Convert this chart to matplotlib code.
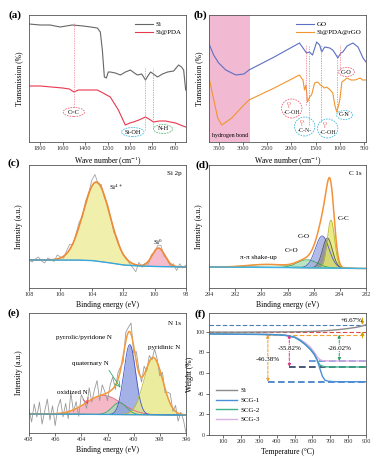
import numpy as np
import matplotlib
matplotlib.use("Agg")
import matplotlib.pyplot as plt
from matplotlib.patches import Ellipse
from matplotlib.lines import Line2D

plt.rcParams['font.family'] = ['Liberation Serif', 'DejaVu Serif']
plt.rcParams['mathtext.fontset'] = 'stix'

# ---------------- data ----------------
# (a) FTIR
a_si_wn = [1900, 1800, 1712, 1622, 1515, 1416, 1350, 1291, 1264, 1246, 1228, 1210, 1193, 1175, 1130,
           1085, 1040, 996, 960, 933, 895, 861, 840, 816, 790, 754, 710, 664, 610, 566, 540, 521, 503]
a_si_T = [118, 117, 117, 115, 117, 116, 115, 114, 110, 92, 65, 64, 70, 70, 69,
          67, 70, 72, 69, 67, 68, 62, 66, 70, 68, 65, 68, 70, 71, 77, 75, 72, 52]
a_pda_wn = [1900, 1800, 1700, 1600, 1540, 1500, 1460, 1400, 1291, 1240, 1175, 1103, 1041, 1000, 969,
            920, 861, 830, 790, 740, 682, 640, 593, 550, 503]
a_pda_T = [56, 56, 55, 54, 53, 50, 52, 52, 52, 49, 45, 32, 17, 19, 20,
           22, 25, 23, 20, 21, 21, 20, 19, 17, 15]
a_marks = [1500, 862, 790]

# (b) FTIR
b_go_wn = [3690, 3604, 3500, 3354, 3146, 2979, 2875, 2354, 1833, 1760, 1688, 1625, 1563, 1479, 1417,
           1375, 1313, 1208, 1146, 1090, 1042, 979, 938, 850, 729, 625, 521, 460]
b_go_T = [97, 87, 79, 72, 67, 68, 72, 85, 99, 94, 89, 90, 87, 100, 97,
          90, 95, 94, 92, 88, 84, 89, 90, 96, 99, 95, 84, 80]
b_rgo_wn = [3690, 3600, 3520, 3437, 3229, 3021, 2875, 2354, 1833, 1792, 1760, 1729, 1700, 1667, 1625,
            1583, 1521, 1458, 1400, 1313, 1271, 1200, 1146, 1104, 1063, 1030, 1000, 958, 900, 854,
            770, 688, 630, 583, 530, 479, 460]
b_rgo_T = [62, 42, 24, 17, 24, 35, 42, 54, 67, 64, 62, 52, 57, 40, 45,
           47, 59, 60, 57, 54, 55, 52, 49, 37, 30, 36, 42, 60, 62, 64,
           62, 62, 63, 64, 62, 62, 62]
b_marks = [1690, 1646, 1396, 1063, 1000]
b_band = [3700, 2850]

# (c) Si 2p
c_centers = [103.7, 99.75]
c_heights = [79, 18.5]
c_sigmas = [0.85, 0.40]
c_base_E = [108, 105, 104, 103, 102, 101, 100, 98]
c_base_I = [28, 28, 27.5, 25.5, 23, 22, 21.5, 21]
c_raw_res = [0, -2, 1, 3, -1, -3, 2, 0, -2, 4,
             1, -2, 3, 5, -1, 2, 4, -2, 3, 1,
             6, 8, -1, 3, -2, 2, 1, -3, 2, 0,
             -1, 1, -2, -4, -7, 3, -2, 1, -3, 2,
             -1, 3, 4, -2, 1, -3, 2, -4, 3, -1, 2]

# (d) C 1s  (C-C, C-N, C-O, C=O, pi-pi)
d_centers = [284.68, 284.95, 285.35, 286.5, 289.5]
d_heights = [48, 30, 32, 8, 3]
d_sigmas = [0.28, 0.38, 0.52, 0.75, 1.5]
d_base_E = [294, 288, 284, 282]
d_base_I = [21, 20.5, 19.8, 19.5]

# (e) N 1s  (oxidized, quaternary, pyrrolic, pyridinic)
e_centers = [402.3, 401.1, 400.3, 398.5]
e_heights = [19, 12, 70, 57]
e_sigmas = [1.35, 0.55, 0.45, 0.72]
e_base_E = [408, 396]
e_base_I = [19, 18]
e_raw_res = [5, -8, 10, -3, 12, -10, 3, 15, -6, 8,
             -12, 6, 14, -4, 9, -7, 18, -2, 7, -9,
             11, 4, -6, 13, -3, 8, 16, -5, 10, 2,
             -8, 6, 12, -4, 7, 3, -6, 9, 5, 11,
             -7, 10, 4, -5, 8, -3, 6, -2, 9, 3,
             -6, 7, -4, 5, 10, -3, 6, -8, 2, -5, -18]

# (f) TGA
f_T_si = [25, 100, 200, 300, 400, 500, 600, 650, 700, 750, 800, 850, 880, 900]
f_W_si = [99.6, 99.5, 99.5, 99.6, 99.7, 99.8, 100.2, 100.6, 101.2, 102.0, 103.0, 104.3, 105.5, 106.7]
f_T = [25, 100, 200, 300, 400, 450, 500, 530, 560, 590, 610, 625, 640, 655, 670, 690, 720, 800, 900]
f_W_1 = [97.8, 97.6, 97.4, 97.3, 97.0, 96.3, 94.5, 91.5, 87.5, 82.5, 78, 73, 65, 57, 53, 52, 51.6, 51.5, 51.5]
f_W_2 = [97.8, 97.6, 97.4, 97.3, 97.0, 96.3, 94.5, 91.5, 87.5, 82.5, 78, 73, 68, 66.5, 66, 65.9, 65.8, 65.8, 65.8]
f_W_3 = [97.9, 97.7, 97.5, 97.4, 97.1, 96.6, 95.0, 92.5, 89, 84.5, 80, 76, 73, 72, 71.8, 71.7, 71.6, 71.6, 71.6]
f_losses = ['+6.67%', '-46.38%', '-35.82%', '-26.02%']

# ---------------- figure ----------------
W, H = 387, 466
fig = plt.figure(figsize=(W / 100, H / 100), dpi=100)

def ax_px(l, t, r, b):
    return fig.add_axes([l / W, 1 - b / H, (r - l) / W, (b - t) / H])

TICK = 4.5
LAB = 5.5

def style(ax, yticks=False):
    for s in ax.spines.values():
        s.set_linewidth(0.6)
        s.set_color('#555555')
    ax.tick_params(direction='out', length=2, width=0.5, labelsize=TICK, pad=1.2, colors='#333333')
    if not yticks:
        ax.set_yticks([])

def plabel(x, y, s):
    fig.text(x / W, 1 - y / H, s, fontsize=8, fontweight='bold', ha='center', va='center')

def gauss(x, c, h, s):
    return h * np.exp(-(x - c) ** 2 / (2 * s ** 2))

def ell(ax, x, y, w, h, ec):
    ax.add_patch(Ellipse((x, y), w, h, fill=False, ec=ec, ls=(0, (2, 1.2)), lw=0.6, zorder=5))

LC, RC = (29, 186), (209, 366)

# ---- (a)
ax = ax_px(LC[0], 15, LC[1], 142)
ax.plot(a_si_wn, a_si_T, color='#666666', lw=0.8, label='Si')
ax.plot(a_pda_wn, a_pda_T, color='#e8384f', lw=0.8, label='Si@PDA')
ax.set_xlim(1900, 500)
ax.set_ylim(0, 127)
ax.set_xticks([1800, 1600, 1400, 1200, 1000, 800, 600])
style(ax)
ax.vlines(a_marks[0], 35, 119, colors='#ee8899', linestyles=(0, (2, 1.5)), lw=0.5)
ax.vlines(a_marks[1], 12, 74, colors='#55bbdd', linestyles=(0, (2, 1.5)), lw=0.5)
ax.vlines(a_marks[2], 15, 74, colors='#66bb77', linestyles=(0, (2, 1.5)), lw=0.5)
ax.text(1500, 30, 'C=C', fontsize=4.5, ha='center', va='center')
ell(ax, 1500, 30, 190, 9, '#ee6677')
ax.text(975, 10, 'Si-OH', fontsize=4.5, ha='center', va='center')
ell(ax, 975, 10, 200, 9, '#44bbdd')
ax.text(705, 13, 'N-H', fontsize=4.5, ha='center', va='center')
ell(ax, 705, 13, 170, 9, '#55bb77')
ax.legend(loc='upper right', bbox_to_anchor=(1.0, 0.99), frameon=False, fontsize=5,
          handlelength=2.6, handletextpad=0.3, labelspacing=0.35, borderaxespad=0.3)
ax.set_xlabel('Wave number (cm$^{-1}$)', fontsize=LAB, labelpad=2.5)
ax.set_ylabel('Transmission (%)', fontsize=LAB, labelpad=4)
plabel(15, 15, '(a)')

# ---- (b)
ax = ax_px(RC[0], 15, RC[1], 142)
ax.axvspan(b_band[0], b_band[1], color='#f2b9d2', lw=0)
ax.plot(b_go_wn, b_go_T, color='#5b6fc4', lw=0.8, label='GO')
ax.plot(b_rgo_wn, b_rgo_T, color='#f0962e', lw=0.8, label='Si@PDA@rGO')
ax.set_xlim(3700, 460)
ax.set_ylim(0, 127)
ax.set_xticks([3500, 3000, 2500, 2000, 1500, 1000, 500])
style(ax)
ls = (0, (2, 1.5))
ax.vlines(b_marks[0], 37, 97, colors='#ee7788', linestyles=ls, lw=0.5)
ax.vlines(b_marks[1], 17, 97, colors='#44bbdd', linestyles=ls, lw=0.5)
ax.vlines(b_marks[2], 20, 97, colors='#55bb77', linestyles=ls, lw=0.5)
ax.vlines(b_marks[3], 30, 88, colors='#44bbdd', linestyles=ls, lw=0.5)
ax.vlines(b_marks[4], 72, 97, colors='#ee7788', linestyles=ls, lw=0.5)
ax.text(3268, 6, 'hydrogen bond', fontsize=4.2, ha='center', va='center')
ax.text(861, 70, 'C-O', fontsize=4.5, ha='center', va='center')
ell(ax, 861, 70, 330, 9, '#ee6677')
ax.text(902, 27, 'C-N', fontsize=4.5, ha='center', va='center')
ell(ax, 902, 27, 330, 9, '#44bbdd')
for (x, y, tail, ec) in [(1993, 32, '-C-OH', '#ee6677'), (1725, 14, '-C-N-', '#44bbdd'),
                         (1252, 12, '-C-OH', '#44bbdd')]:
    ax.text(x + 60, y + 6, 'O', fontsize=3.8, color='#e03030', ha='center', va='center')
    ax.text(x + 60, y + 2.5, '‖', fontsize=3.5, color='#e03030', ha='center', va='center')
    ax.text(x, y - 3, tail, fontsize=4.3, ha='center', va='center', color='#222222')
    ell(ax, x, y + 1.5, 420, 19, ec)
ax.legend(loc='upper right', bbox_to_anchor=(1.0, 0.99), frameon=False, fontsize=5,
          handlelength=2.6, handletextpad=0.3, labelspacing=0.35, borderaxespad=0.3)
ax.set_xlabel('Wave number (cm$^{-1}$)', fontsize=LAB, labelpad=2.5)
ax.set_ylabel('Transmission (%)', fontsize=LAB, labelpad=4)
plabel(200, 15, '(b)')

# ---- (c)
ax = ax_px(LC[0], 165, LC[1], 288)
Eg = np.linspace(108, 98, 600)
base = np.interp(Eg, c_base_E[::-1], c_base_I[::-1])
fills = ['#eeed9c', '#f3b1c3']
edges = ['#c9c65a', '#e27a95']
env = base.copy()
for c, h, s, fc, ec in zip(c_centers, c_heights, c_sigmas, fills, edges):
    g = gauss(Eg, c, h, s)
    ax.fill_between(Eg, base, base + g, color=fc, alpha=0.85, lw=0)
    ax.plot(Eg, base + g, color=ec, lw=0.5)
    env += g
Er = np.linspace(108, 98, len(c_raw_res))
raw = np.interp(Er, Eg[::-1], env[::-1]) + np.array(c_raw_res)
ax.plot(Er, raw, color='#a5a5a5', lw=0.6)
ax.plot(Eg, env, color='#f08a35', lw=1.2)
ax.plot(Eg, base, color='#36a8e0', lw=1.0)
ax.set_xlim(108, 98)
ax.set_ylim(0, 123)
ax.set_xticks([108, 106, 104, 102, 100, 98])
style(ax)
ax.text(0.97, 0.95, 'Si 2p', transform=ax.transAxes, fontsize=5, ha='right', va='top')
ax.text(102.9, 101, 'Si$^{4+}$', fontsize=5, ha='left', va='center')
ax.text(99.75, 46, 'Si$^{0}$', fontsize=5, ha='center', va='center')
ax.set_xlabel('Binding energy (eV)', fontsize=LAB, labelpad=2.5)
ax.set_ylabel('Intensity (a.u.)', fontsize=LAB, labelpad=4)
plabel(14, 163, '(c)')

# ---- (d)
ax = ax_px(RC[0], 165, RC[1], 288)
Eg = np.linspace(294, 282, 800)
base = np.interp(Eg, d_base_E[::-1], d_base_I[::-1])
fills = ['#e4e86a', '#8e8e8e', '#9fa9e2', '#a9dcb4', '#c8ecd8']
edges = ['#b6b92c', '#5a5a5a', '#4d63c6', '#35a45a', '#7cc8a0']
env = base.copy()
order = [4, 3, 2, 1, 0]
for i in order:
    g = gauss(Eg, d_centers[i], d_heights[i], d_sigmas[i])
    ax.fill_between(Eg, base, base + g, color=fills[i], alpha=0.8 if i != 4 else 0.5, lw=0)
    ax.plot(Eg, base + g, color=edges[i], lw=0.6)
    env += g
ax.plot(Eg, env, color='#f39237', lw=1.1)
ax.plot(Eg, base, color='#3ab5e5', lw=1.0)
ax.set_xlim(294, 282)
ax.set_ylim(0, 123)
ax.set_xticks([294, 292, 290, 288, 286, 284, 282])
style(ax)
ax.text(0.97, 0.95, 'C 1s', transform=ax.transAxes, fontsize=5, ha='right', va='top')
ax.text(283.7, 70, 'C-C', fontsize=5, ha='center', va='center')
ax.text(286.74, 51, 'C-O', fontsize=5, ha='center', va='center')
ax.text(287.66, 38, 'C=O', fontsize=5, ha='center', va='center')
ax.text(290.2, 30, 'π-π shake-up', fontsize=5, ha='center', va='center')
ax.set_xlabel('Binding energy (eV)', fontsize=LAB, labelpad=2.5)
ax.set_ylabel('Intensity (a.u.)', fontsize=LAB, labelpad=4)
plabel(202, 165, '(d)')

# ---- (e)
ax = ax_px(LC[0], 313, LC[1], 433)
Eg = np.linspace(408, 396, 800)
base = np.interp(Eg, e_base_E[::-1], e_base_I[::-1])
fills = ['#f2a7b8', '#a7dcb8', '#8e9ee0', '#e8e886']
edges = ['#e0647e', '#33ae62', '#4256c6', '#bcbc34']
env = base.copy()
for c, h, s, fc, ec in zip(e_centers, e_heights, e_sigmas, fills, edges):
    g = gauss(Eg, c, h, s)
    ax.fill_between(Eg, base, base + g, color=fc, alpha=0.8, lw=0)
    ax.plot(Eg, base + g, color=ec, lw=0.6)
    env += g
Er = np.linspace(408, 396, len(e_raw_res))
raw = np.interp(Er, Eg[::-1], env[::-1]) + np.array(e_raw_res)
ax.plot(Er, raw, color='#9a9a9a', lw=0.6)
ax.plot(Eg, env, color='#f59a3c', lw=1.1)
ax.plot(Eg, base, color='#3aa0d0', lw=0.9)
ax.set_xlim(408, 396)
ax.set_ylim(0, 120)
ax.set_xticks([408, 406, 404, 402, 400, 398, 396])
style(ax)
ax.text(0.97, 0.93, 'N 1s', transform=ax.transAxes, fontsize=5, ha='right', va='top')
ax.text(403.8, 95, 'pyrrolic/pyridone N', fontsize=5, ha='center', va='center')
ax.text(397.7, 86, 'pyridinic N', fontsize=5, ha='center', va='center')
ax.text(403.3, 70, 'quaternary N', fontsize=5, ha='center', va='center')
ax.text(404.7, 41, 'oxidized N', fontsize=5, ha='center', va='center')
ax.annotate('', xy=(400.9, 43), xytext=(402.0, 65),
            arrowprops=dict(arrowstyle='->', color='#2fb070', lw=0.6))
ax.annotate('', xy=(403.4, 26), xytext=(403.7, 35),
            arrowprops=dict(arrowstyle='->', color='#e04a6a', lw=0.6))
ax.set_xlabel('Binding energy (eV)', fontsize=LAB, labelpad=2.5)
ax.set_ylabel('Intensity (a.u.)', fontsize=LAB, labelpad=4)
plabel(14, 313, '(e)')

# ---- (f)
ax = ax_px(RC[0], 313, RC[1], 435)
ax.hlines(106.67, 20, 900, colors='#4a7fb5', linestyles=(0, (4, 2)), lw=0.8)
ax.hlines(100, 20, 900, colors='#e04848', linestyles=(0, (4, 2)), lw=0.8)
ax.hlines(97, 340, 900, colors='#f5a030', linestyles=(0, (4, 2)), lw=0.8)
ax.hlines(51.5, 350, 900, colors='#3b78c4', linestyles=(0, (4, 2)), lw=1.2)
ax.hlines(65.8, 470, 900, colors='#283c5c', linestyles=(0, (4, 2)), lw=1.2)
ax.hlines(71.6, 583, 900, colors='#4b8ad0', linestyles=(0, (4, 2)), lw=1.2)
ax.plot(f_T_si, f_W_si, color='#8a8a8a', lw=1.0, label='Si')
ax.plot(f_T, f_W_3, color='#d9aee3', lw=1.0)
ax.plot(f_T, f_W_2, color='#3cb38a', lw=1.0)
ax.plot(f_T, f_W_1, color='#4a90d9', lw=1.0)
for x, y0, y1, col in [(350, 97, 51.5, '#f39a2a'), (470, 97, 65.8, '#e0338a'), (750, 97, 71.6, '#2e9e5e')]:
    ax.annotate('', xy=(x, y1), xytext=(x, y0),
                arrowprops=dict(arrowstyle='<|-|>', color=col, lw=0.7, ls=(0, (3, 1.5)),
                                mutation_scale=4, shrinkA=0, shrinkB=0))
ax.annotate('', xy=(880, 106.67), xytext=(880, 113),
            arrowprops=dict(arrowstyle='-|>', color='#c8a000', lw=0.7, mutation_scale=4, shrinkA=0, shrinkB=0))
ax.annotate('', xy=(880, 100), xytext=(880, 94),
            arrowprops=dict(arrowstyle='-|>', color='#c8a000', lw=0.7, mutation_scale=4, shrinkA=0, shrinkB=0))
bb = dict(fc='white', ec='none', pad=0.2)
ax.text(820, 111, f_losses[0], fontsize=5, ha='center', va='center')
ax.text(351, 73, f_losses[1], fontsize=5, ha='center', va='center', bbox=bb)
ax.text(474, 84, f_losses[2], fontsize=5, ha='center', va='center', bbox=bb)
ax.text(754, 84, f_losses[3], fontsize=5, ha='center', va='center', bbox=bb)
ax.set_xlim(20, 900)
ax.set_ylim(0, 118)
ax.set_xticks([100, 200, 300, 400, 500, 600, 700, 800, 900])
ax.set_yticks([0, 20, 40, 60, 80, 100])
style(ax, yticks=True)
handles = [Line2D([], [], color='#8a8a8a', lw=1.0), Line2D([], [], color='#4a90d9', lw=1.0),
           Line2D([], [], color='#3cb38a', lw=1.0), Line2D([], [], color='#d9aee3', lw=1.0)]
ax.legend(handles, ['Si', 'SCG-1', 'SCG-2', 'SCG-3'], loc='lower left', bbox_to_anchor=(0.02, 0.07),
          frameon=False, fontsize=5, handlelength=3, handletextpad=0.5, labelspacing=0.55, borderaxespad=0.2)
ax.set_xlabel('Temperature (°C)', fontsize=LAB, labelpad=2.5)
ax.set_ylabel('Weight (%)', fontsize=LAB, labelpad=1)
plabel(200, 314, '(f)')

fig.savefig('out.png', dpi=100)
